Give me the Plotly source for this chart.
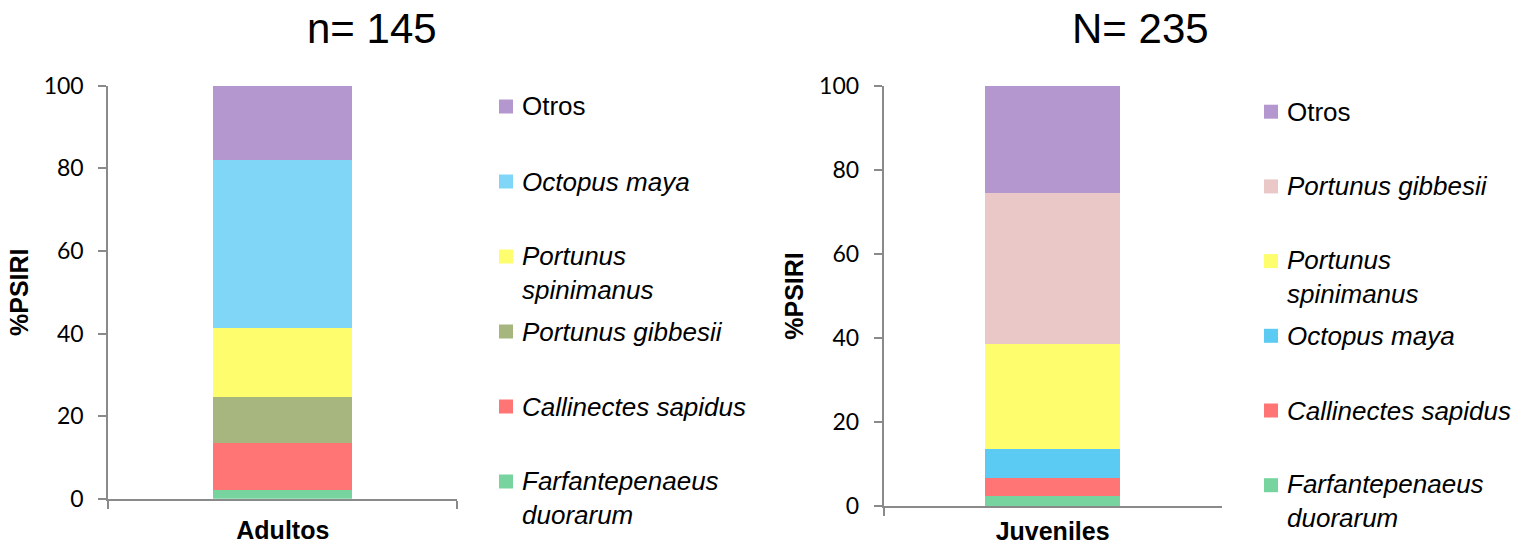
import plotly.graph_objects as go

# ---------------- data ----------------
cat_left = ["Adultos"]
names_left = ["Farfantepenaeus duorarum", "Callinectes sapidus", "Portunus gibbesii",
              "Portunus spinimanus", "Octopus maya", "Otros"]
values_left = [2.2, 11.3, 11.3, 16.5, 40.8, 17.9]
colors_left = ["#77D49F", "#FF7575", "#A6B67E", "#FDFD6E", "#7FD6F7", "#B597CF"]

cat_right = ["Juveniles"]
names_right = ["Farfantepenaeus duorarum", "Callinectes sapidus", "Octopus maya",
               "Portunus spinimanus", "Portunus gibbesii", "Otros"]
values_right = [2.5, 4.3, 6.8, 25.1, 35.8, 25.5]
colors_right = ["#77D49F", "#FF7575", "#5BCBF3", "#FDFD6E", "#EBC8C8", "#B597CF"]

title_left = "n= 145"
title_right = "N= 235"
y_title = "%PSIRI"
y_ticks = [0, 20, 40, 60, 80, 100]

# legend display (line breaks as in the original)
legend_text = {
    "Otros": "Otros",
    "Octopus maya": "<i>Octopus maya</i>",
    "Portunus spinimanus": "<i>Portunus<br>spinimanus</i>",
    "Portunus gibbesii": "<i>Portunus gibbesii</i>",
    "Callinectes sapidus": "<i>Callinectes sapidus</i>",
    "Farfantepenaeus duorarum": "<i>Farfantepenaeus<br>duorarum</i>",
}

# ---------------- layout helpers ----------------
W, H = 1527, 548
def px(x):
    return x / W
def py(y):
    return 1 - y / H

AX_COLOR = "#8A8A8A"
TXT = "Liberation Sans, Arial, sans-serif"

fig = go.Figure()

panels = [
    dict(cat=cat_left, names=names_left, vals=values_left, cols=colors_left, xa="x", ya="y"),
    dict(cat=cat_right, names=names_right, vals=values_right, cols=colors_right, xa="x2", ya="y2"),
]
for p in panels:
    for n, v, c in zip(p["names"], p["vals"], p["cols"]):
        fig.add_trace(go.Bar(
            x=p["cat"], y=[v], name=n, width=0.4,
            marker=dict(color=c, line=dict(width=0)),
            xaxis=p["xa"], yaxis=p["ya"], showlegend=False,
        ))

def xaxis_cfg(domain, anchor, standoff):
    return dict(
        domain=domain, anchor=anchor, type="category", automargin=False,
        showline=True, linecolor=AX_COLOR, linewidth=2,
        ticks="outside", tickson="boundaries", ticklen=8, tickwidth=2, tickcolor=AX_COLOR,
        tickfont=dict(family=TXT, size=25, color="black", weight="bold"),
        ticklabelstandoff=standoff,
        showgrid=False, zeroline=False, fixedrange=True,
    )

def yaxis_cfg(domain, anchor):
    return dict(
        domain=domain, anchor=anchor, range=[0, 100], automargin=False,
        tickvals=y_ticks, ticktext=[str(t) for t in y_ticks],
        showline=True, linecolor=AX_COLOR, linewidth=2,
        ticks="outside", ticklen=8, tickwidth=2, tickcolor=AX_COLOR,
        tickfont=dict(family="Lato, Carlito, sans-serif", size=23, color="black"),
        ticklabelstandoff=10,
        title=dict(text=y_title, font=dict(family=TXT, size=25, color="black", weight="bold"),
                   standoff=8),
        showgrid=False, zeroline=False, fixedrange=True,
    )

fig.update_layout(
    width=W, height=H,
    margin=dict(l=0, r=0, t=0, b=0, autoexpand=False),
    paper_bgcolor="white", plot_bgcolor="white",
    barmode="stack", bargap=0,
    xaxis=xaxis_cfg([px(108.3), px(457.3)], "y", 8),
    yaxis=yaxis_cfg([py(498.7), py(85.7)], "x"),
    xaxis2=xaxis_cfg([px(883.7), px(1221.5)], "y2", 2),
    yaxis2=yaxis_cfg([py(506.3), py(85.7)], "x2"),
    showlegend=False,
)

# titles
for txt, xc in [(title_left, 372), (title_right, 1140)]:
    fig.add_annotation(text=txt, x=px(xc), y=py(28), xref="paper", yref="paper",
                       xanchor="center", yanchor="middle", showarrow=False,
                       font=dict(family=TXT, size=42, color="black"))

# custom legends (top-to-bottom = reverse of stack order)
legends = [
    dict(names=names_left[::-1], cols=colors_left[::-1], sq_x=499, txt_x=520, y0=106.5, step=75.0),
    dict(names=names_right[::-1], cols=colors_right[::-1], sq_x=1264, txt_x=1285, y0=111.7, step=74.7),
]
for L in legends:
    for k, (n, c) in enumerate(zip(L["names"], L["cols"])):
        yc = L["y0"] + k * L["step"]
        fig.add_shape(type="rect", xref="paper", yref="paper",
                      x0=px(L["sq_x"]), x1=px(L["sq_x"] + 14),
                      y0=py(yc - 7), y1=py(yc + 7),
                      fillcolor=c, line=dict(width=0))
        label = legend_text[n]
        nlines = label.count("<br>") + 1
        fig.add_annotation(text=label, x=px(L["txt_x"]), y=py(yc + (nlines - 1) * 16),
                           xref="paper", yref="paper", xanchor="left", yanchor="middle",
                           align="left", showarrow=False,
                           font=dict(family=TXT, size=26, color="black"))

fig.write_html("out.html", config={"displayModeBar": False},
               post_script="document.body.style.margin='0';document.body.style.overflow='hidden';")
